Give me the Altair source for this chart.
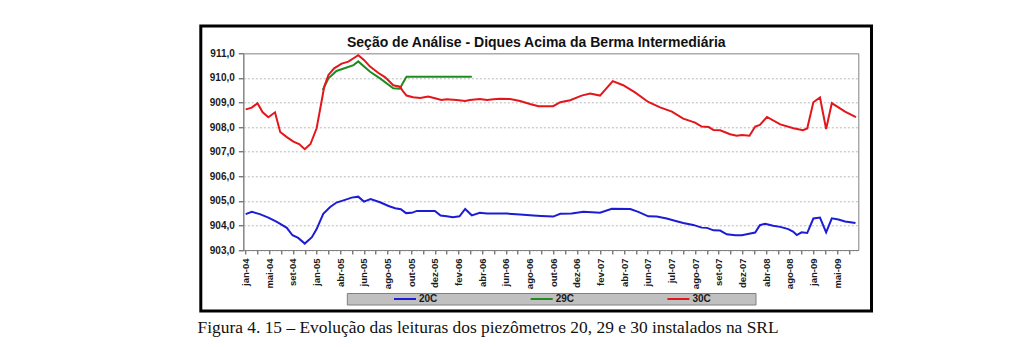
import altair as alt
import pandas as pd

# ---------------- data ----------------
tick_labels = ["jan-04", "mai-04", "set-04", "jan-05", "abr-05", "jun-05", "ago-05",
               "out-05", "dez-05", "fev-06", "abr-06", "jun-06", "ago-06", "out-06",
               "dez-06", "fev-07", "abr-07", "jun-07", "jul-07", "ago-07", "set-07",
               "dez-07", "abr-08", "ago-08", "jan-09", "mai-09"]
label_step = 5          # one label every 5 readings
n_readings = 130

series_names = ["20C", "29C", "30C"]
series_colors = ["#1c1cd6", "#1e8c1e", "#e3161b"]

idx_20 = [0.0, 1.3, 3.0, 4.8, 6.6, 8.7, 9.9, 11.1, 12.5, 14.0, 15.0, 16.4, 17.8, 19.2,
          21.0, 22.4, 23.8, 25.0, 26.4, 28.4, 30.2, 31.6, 32.8, 33.9, 35.1, 36.2, 38.3,
          40.0, 41.2, 42.5, 43.8, 45.2, 46.4, 47.8, 49.5, 51.0, 55.2, 58.0, 60.8, 62.5,
          65.0, 66.5, 68.9, 71.4, 73.2, 74.9, 77.4, 81.3, 83.0, 85.1, 86.9, 89.0, 91.1,
          92.5, 94.6, 96.4, 97.5, 98.9, 100.3, 101.7, 103.5, 104.9, 105.9, 107.7, 108.7,
          109.8, 111.5, 113.0, 114.7, 115.7, 116.5, 117.5, 118.7, 120.0, 121.4, 122.7,
          123.9, 125.3, 126.7, 128.9]
val_20 = [904.46, 904.55, 904.46, 904.32, 904.14, 903.90, 903.60, 903.49, 903.26, 903.52,
          903.85, 904.47, 904.74, 904.93, 905.04, 905.13, 905.17, 904.97, 905.07, 904.94,
          904.79, 904.70, 904.66, 904.50, 904.51, 904.59, 904.59, 904.59, 904.40, 904.37,
          904.33, 904.37, 904.67, 904.41, 904.51, 904.48, 904.48, 904.44, 904.40, 904.38,
          904.36, 904.47, 904.48, 904.56, 904.54, 904.52, 904.68, 904.67, 904.55, 904.37,
          904.36, 904.28, 904.17, 904.10, 904.02, 903.91, 903.90, 903.80, 903.79, 903.64,
          903.60, 903.60, 903.64, 903.71, 904.01, 904.07, 903.99, 903.94, 903.85, 903.75,
          903.61, 903.72, 903.69, 904.28, 904.32, 903.72, 904.29, 904.24, 904.16, 904.10]

idx_29 = [16.3, 17.5, 19.2, 21.2, 22.8, 23.8, 26.3, 28.4, 31.2, 32.6, 33.2, 34.0, 47.8]
val_29 = [909.51, 909.98, 910.28, 910.41, 910.52, 910.67, 910.25, 909.98, 909.58, 909.56,
          909.78, 910.05, 910.05]

idx_30 = [0.0, 1.3, 2.5, 3.6, 4.8, 6.2, 7.3, 8.7, 10.1, 11.3, 12.5, 13.7, 15.0, 16.1, 16.6,
          17.5, 18.7, 20.3, 21.7, 22.8, 23.8, 25.0, 26.3, 28.0, 29.5, 31.2, 32.6, 33.2,
          34.0, 35.4, 36.9, 38.6, 40.0, 41.4, 42.5, 44.6, 46.4, 47.4, 49.5, 51.0, 52.4,
          53.8, 55.9, 58.0, 60.1, 61.9, 65.0, 66.5, 68.6, 71.0, 72.8, 74.9, 77.6, 79.8,
          82.3, 85.1, 87.6, 90.1, 92.5, 95.0, 96.4, 97.9, 98.9, 100.3, 102.4, 103.8, 104.9,
          106.5, 107.7, 108.7, 110.2, 113.0, 115.8, 117.8, 118.7, 120.0, 121.4, 122.7,
          123.9, 126.7, 129.0]
val_30 = [908.72, 908.79, 908.97, 908.60, 908.40, 908.60, 907.80, 907.59, 907.41, 907.31,
          907.10, 907.31, 907.95, 909.10, 909.64, 910.12, 910.39, 910.58, 910.66, 910.80,
          910.92, 910.73, 910.46, 910.21, 910.02, 909.70, 909.64, 909.47, 909.28, 909.21,
          909.18, 909.24, 909.17, 909.10, 909.13, 909.10, 909.06, 909.10, 909.14, 909.10,
          909.13, 909.15, 909.14, 909.06, 908.94, 908.85, 908.85, 909.01, 909.09, 909.28,
          909.36, 909.28, 909.87, 909.70, 909.41, 909.02, 908.80, 908.63, 908.34, 908.18,
          908.02, 908.00, 907.88, 907.87, 907.71, 907.65, 907.68, 907.65, 908.02, 908.09,
          908.41, 908.11, 907.95, 907.87, 907.94, 909.01, 909.20, 907.92, 908.97, 908.63,
          908.40]

title_text = "Seção de Análise - Diques Acima da Berma Intermediária"
caption_text = "Figura 4. 15 – Evolução das leituras dos piezômetros 20, 29 e 30 instalados na SRL"

# ---------------- build table ----------------
rows = []
for name, xs, vs in [("20C", idx_20, val_20), ("29C", idx_29, val_29), ("30C", idx_30, val_30)]:
    for order, (x, v) in enumerate(zip(xs, vs)):
        rows.append({"serie": name, "idx": x, "valor": v, "ord": order})
df = pd.DataFrame(rows)

# ---------------- layout (pixels) ----------------
PLOT_W, PLOT_H = 615, 196.7
PAD_L, PAD_T = 243.3, 53.3
PAD_R = 1024 - PAD_L - PLOT_W
PAD_B = 347 - PAD_T - PLOT_H

FONT = "Liberation Sans"

labs_js = "[" + ",".join("'" + s + "'" for s in tick_labels) + "]"
tick_vals = [i * 2.5 for i in range(int(len(tick_labels) * label_step / 2.5) + 1)
             if i * 2.5 <= n_readings - 0.5]

x_enc = alt.X(
    "idx:Q",
    scale=alt.Scale(domain=[-0.5, n_readings - 0.5], nice=False, zero=False),
    axis=alt.Axis(
        title=None,
        values=tick_vals,
        labelExpr=f"datum.value % {label_step} == 0 ? {labs_js}[datum.value / {label_step}] : ''",
        labelAngle=-90,
        labelFont=FONT, labelFontSize=9.5, labelFontWeight="bold", labelColor="#1a1a1a",
        labelPadding=4, labelOverlap=False, labelFlush=False, labelBound=False,
        tickSize=4, tickColor="#444444", domainColor="#808080", grid=False,
    ),
)
y_enc = alt.Y(
    "valor:Q",
    scale=alt.Scale(domain=[903, 911], nice=False, zero=False),
    axis=alt.Axis(
        title=None,
        values=[903, 904, 905, 906, 907, 908, 909, 910, 911],
        labelExpr="replace(format(datum.value, '.1f'), '.', ',')",
        labelFont=FONT, labelFontSize=10, labelFontWeight="bold", labelColor="#1a1a1a",
        labelPadding=4, tickSize=5, tickColor="#444444", domainColor="#808080",
        grid=True, gridColor="#b8b8b8", gridDash=[2, 2], gridWidth=1,
    ),
)

lines = alt.Chart(df).mark_line(strokeWidth=2, clip=True).encode(
    x=x_enc,
    y=y_enc,
    color=alt.Color("serie:N", scale=alt.Scale(domain=series_names, range=series_colors),
                    legend=None),
    order="ord:Q",
    detail="serie:N",
)

one = pd.DataFrame({"a": [0]})

frame = alt.Chart(one).mark_rect(fill="white", fillOpacity=0, stroke="black", strokeWidth=3).encode(
    x=alt.value(200.8 - PAD_L), x2=alt.value(871.5 - PAD_L),
    y=alt.value(26.0 - PAD_T), y2=alt.value(311.0 - PAD_T),
)

title = alt.Chart(one).mark_text(
    text=title_text, font=FONT, fontSize=14, fontWeight="bold", color="#111111",
    align="center", baseline="middle",
).encode(x=alt.value(536.3 - PAD_L), y=alt.value(42.7 - PAD_T))

leg_box = alt.Chart(one).mark_rect(fill="#c0c0c0", stroke="#808080", strokeWidth=1).encode(
    x=alt.value(347.3 - PAD_L), x2=alt.value(756.0 - PAD_L),
    y=alt.value(293.5 - PAD_T), y2=alt.value(305.0 - PAD_T),
)

leg_layers = []
LEG_X0, LEG_STEP, LEG_Y = 394.0 - PAD_L, 136.7, 299.0 - PAD_T
for k, (name, col) in enumerate(zip(series_names, series_colors)):
    leg_layers.append(
        alt.Chart(one).mark_rule(color=col, strokeWidth=2).encode(
            x=alt.value(LEG_X0 + k * LEG_STEP), x2=alt.value(LEG_X0 + k * LEG_STEP + 22),
            y=alt.value(LEG_Y),
        )
    )
    leg_layers.append(
        alt.Chart(one).mark_text(
            text=name, font=FONT, fontSize=10, fontWeight="bold", color="#1a1a1a",
            align="left", baseline="middle",
        ).encode(x=alt.value(LEG_X0 + k * LEG_STEP + 25), y=alt.value(LEG_Y))
    )

caption = alt.Chart(one).mark_text(
    text=caption_text, font="Liberation Serif", fontSize=17.4, color="#111111",
    align="left", baseline="alphabetic",
).encode(x=alt.value(197.5 - PAD_L), y=alt.value(333.0 - PAD_T))

chart = alt.layer(frame, title, lines, leg_box, *leg_layers, caption).properties(
    width=PLOT_W, height=PLOT_H,
    autosize=alt.AutoSizeParams(type="none"),
    padding={"left": PAD_L, "top": PAD_T, "right": PAD_R, "bottom": PAD_B},
    background="white",
).configure_view(stroke="#808080", strokeWidth=1)

chart.save("out.html", embed_options={"renderer": "svg", "actions": False})
